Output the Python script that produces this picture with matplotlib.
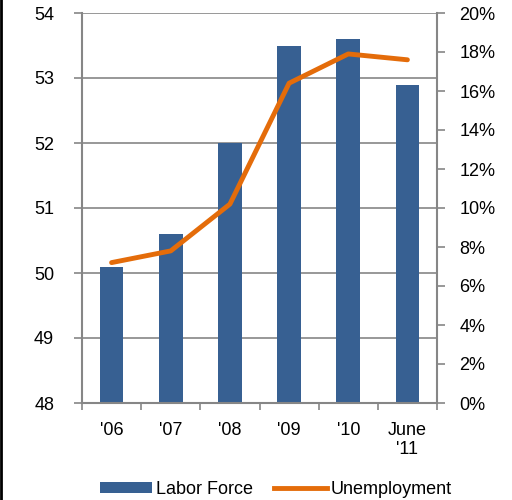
import numpy as np
import matplotlib.pyplot as plt
from matplotlib.patches import Patch
from matplotlib.lines import Line2D

plt.rcParams['font.family'] = ['Liberation Sans', 'DejaVu Sans']

# data
categories = ["'06", "'07", "'08", "'09", "'10", "June\n'11"]
labor_force = [50.1, 50.6, 52.0, 53.5, 53.6, 52.9]
unemployment = [7.2, 7.8, 10.2, 16.4, 17.9, 17.6]

bar_color = '#376092'
line_color = '#E46C0A'
axis_color = '#868686'
fs = 13

fig = plt.figure(figsize=(5.12, 5.0), dpi=100)
ax = fig.add_axes([82 / 512, 1 - 403 / 500, 355 / 512, 390 / 500])
x = np.arange(len(categories))

ax.set_axisbelow(True)
ax.bar(x, labor_force, width=0.4, color=bar_color, bottom=0, zorder=2)
ax.set_ylim(48, 54)
ax.set_yticks(range(48, 55))
ax.set_xlim(-0.5, len(categories) - 0.5)
ax.yaxis.grid(True, color=axis_color, linewidth=1.2)
ax.set_xticks(x)
ax.set_xticklabels(categories, fontsize=fs, linespacing=1.1)
ax.set_xticks(np.arange(-0.5, len(categories)), minor=True)
ax.tick_params(axis='x', which='major', length=0, pad=14)
ax.tick_params(axis='x', which='minor', length=5, color=axis_color, width=1.2)
ax.tick_params(axis='y', length=6, color=axis_color, width=1.2, labelsize=fs, pad=14)
for side in ['left', 'right', 'bottom']:
    ax.spines[side].set_color(axis_color)
    ax.spines[side].set_linewidth(1.5)
ax.spines['top'].set_visible(False)

ax2 = ax.twinx()
ax2.plot(x, unemployment, color=line_color, linewidth=3.5, solid_capstyle='round',
         solid_joinstyle='round', zorder=3)
ax2.set_ylim(0, 20)
ax2.set_yticks(range(0, 21, 2))
ax2.set_yticklabels(['{}%'.format(v) for v in range(0, 21, 2)])
ax2.tick_params(axis='y', length=6, color=axis_color, width=1.2, labelsize=fs, pad=10)
for side in ['left', 'right', 'bottom', 'top']:
    ax2.spines[side].set_visible(False)

handles = [Patch(facecolor=bar_color, edgecolor='none'),
           Line2D([0], [0], color=line_color, linewidth=3.5)]
fig.legend(handles, ['Labor Force', 'Unemployment'], loc='lower center',
           bbox_to_anchor=(0.538, -0.028), ncol=2, frameon=False, fontsize=fs,
           handlelength=2.9, handleheight=0.6, handletextpad=0.2, columnspacing=1.2)

fig.add_artist(Line2D([0.002, 0.002], [0, 1], color='black', linewidth=2,
                      transform=fig.transFigure))

fig.savefig('out.png', dpi=100)
